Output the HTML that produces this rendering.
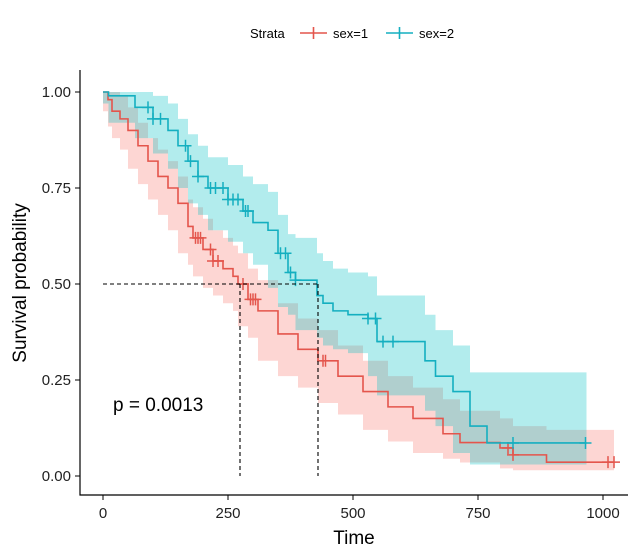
<!DOCTYPE html>
<html><head><meta charset="utf-8"><style>
html,body{margin:0;padding:0;background:#fff;}
svg{display:block;font-family:"Liberation Sans",Arial,sans-serif;}
</style></head><body>
<svg id="chart" width="640" height="557" viewBox="0 0 640 557">
<g id="bands"></g>
<g id="curves"></g>
<g id="ann"></g>
<g id="axes"></g>
</svg>
<script>
const xTicks=[0,250,500,750,1000];
const yTicks=[0,0.25,0.5,0.75,1.0];
const yTickLabels=["0.00","0.25","0.50","0.75","1.00"];
const t1=[0,10,18,34,50,70,90,110,130,150,170,180,200,220,240,260,270,290,310,350,390,430,470,520,570,620,680,714,794,820,887,1022];
const s1=[1,0.98,0.95,0.93,0.9,0.86,0.82,0.78,0.75,0.71,0.65,0.62,0.59,0.56,0.54,0.52,0.5,0.46,0.43,0.37,0.33,0.3,0.26,0.22,0.18,0.15,0.11,0.087,0.073,0.055,0.036,0.036];
const lo1=[1,0.95,0.91,0.88,0.85,0.8,0.76,0.72,0.68,0.64,0.58,0.55,0.52,0.49,0.47,0.45,0.43,0.39,0.36,0.3,0.26,0.23,0.19,0.16,0.12,0.09,0.06,0.045,0.035,0.02,0.015,0.015];
const hi1=[1,1,1,0.99,0.96,0.92,0.88,0.85,0.82,0.78,0.72,0.7,0.67,0.64,0.62,0.6,0.58,0.54,0.51,0.45,0.41,0.38,0.34,0.3,0.26,0.23,0.2,0.17,0.15,0.13,0.12,0.12];
const t2=[0,11,64,100,130,150,170,190,210,250,280,300,330,350,370,385,428,440,460,490,530,548,644,665,700,734,768,967];
const s2=[1,0.99,0.96,0.93,0.9,0.86,0.82,0.78,0.75,0.72,0.69,0.66,0.64,0.58,0.53,0.51,0.47,0.45,0.43,0.42,0.41,0.35,0.3,0.26,0.22,0.13,0.086,0.086];
const lo2=[1,0.97,0.92,0.88,0.84,0.8,0.75,0.71,0.68,0.64,0.61,0.58,0.55,0.49,0.44,0.42,0.38,0.36,0.34,0.33,0.32,0.26,0.21,0.17,0.13,0.06,0.03,0.03];
const hi2=[1,1,1,0.99,0.97,0.93,0.89,0.86,0.83,0.81,0.78,0.76,0.74,0.68,0.63,0.62,0.58,0.56,0.54,0.53,0.52,0.47,0.42,0.38,0.34,0.27,0.27,0.27];
const cens1=[185,190,195,215,220,230,280,295,300,305,440,445,810,820,1010,1022];
const cens2=[90,100,115,165,175,190,215,225,240,250,260,270,285,290,355,365,375,385,530,545,560,580,820,965];

const X=t=>103+t*0.5, Y=s=>476-s*384;
const NS="http://www.w3.org/2000/svg";
function mk(tag,attrs,parent){const e=document.createElementNS(NS,tag);for(const k in attrs)e.setAttribute(k,attrs[k]);parent.appendChild(e);return e;}
function stepPath(t,s){let d="M"+X(t[0])+","+Y(s[0]);for(let i=1;i<t.length;i++){d+=" H"+X(t[i])+" V"+Y(s[i]);}return d;}
function bandPath(t,lo,hi){let d="M"+X(t[0])+","+Y(hi[0]);for(let i=1;i<t.length;i++)d+=" H"+X(t[i])+" V"+Y(hi[i]);for(let i=t.length-1;i>0;i--)d+=" V"+Y(lo[i])+" H"+X(t[i-1]);d+=" V"+Y(lo[0])+"Z";return d;}
function survAt(t,s,x){let v=s[0];for(let i=0;i<t.length;i++)if(t[i]<=x)v=s[i];return v;}
const bands=document.getElementById('bands'),curves=document.getElementById('curves'),ann=document.getElementById('ann'),axes=document.getElementById('axes');
let b=mk('path',{d:bandPath(t1,lo1,hi1),fill:'#F8766D','fill-opacity':0.3},bands);


b=mk('path',{d:bandPath(t2,lo2,hi2),fill:'#00BFC4','fill-opacity':0.3},bands);


const series=[[t1,s1,cens1,'#E4554C','sex1'],[t2,s2,cens2,'#14AFC0','sex2']];
for(const [t,s,c,col,nm] of series){
 let p=mk('path',{d:stepPath(t,s),fill:'none',stroke:col,'stroke-width':1.6},curves);
 
 
 for(const ct of c){const cx=X(ct),cy=Y(survAt(t,s,ct));
  let m=mk('path',{d:`M${cx-6},${cy}H${cx+6}M${cx},${cy-6}V${cy+6}`,stroke:col,'stroke-width':1.5},curves);
  
  }
}
// median lines
const med1=274,med2=430;
let l=mk('path',{d:`M${X(0)},${Y(0.5)}H${X(med2)}M${X(med1)},${Y(0.5)}V${Y(0)}M${X(med2)},${Y(0.5)}V${Y(0)}`,stroke:'#000','stroke-width':1.1,'stroke-dasharray':'4,3',fill:'none'},ann);


let pt=mk('text',{x:113,y:411,'font-size':19,fill:'#000'},ann);pt.textContent='p = 0.0013';


// axes
mk('path',{d:'M80,70V495H628',stroke:'#000','stroke-width':1.2,fill:'none'},axes);
for(let i=0;i<yTicks.length;i++){const y=Y(yTicks[i]);mk('path',{d:`M75,${y}H80`,stroke:'#000'},axes);
 let tx=mk('text',{x:71,y:y+5,'text-anchor':'end','font-size':15,fill:'#222'},axes);tx.textContent=yTickLabels[i];
 
 }
for(const v of xTicks){const x=X(v);mk('path',{d:`M${x},495V500`,stroke:'#000'},axes);
 let tx=mk('text',{x:x,y:518,'text-anchor':'middle','font-size':15,fill:'#222'},axes);tx.textContent=v;
 
 }
let xt=mk('text',{x:354,y:544,'text-anchor':'middle','font-size':19,fill:'#000'},axes);xt.textContent='Time';


let yt=mk('text',{x:0,y:0,transform:'translate(26,283) rotate(-90)','text-anchor':'middle','font-size':19,fill:'#000'},axes);yt.textContent='Survival probability';


// legend
const lg=mk('g',{},axes);


let st=mk('text',{x:250,y:38,'font-size':13,fill:'#000'},lg);st.textContent='Strata';
const leg=[[300,'#E4554C','sex=1'],[386,'#14AFC0','sex=2']];
for(const [x,col,lab] of leg){
 let e=mk('g',{},lg);
 
 
 mk('path',{d:`M${x},33H${x+27}M${x+13.5},27V39`,stroke:col,'stroke-width':1.6},e);
 let tx=mk('text',{x:x+33,y:38,'font-size':13,fill:'#000'},e);tx.textContent=lab;}
</script>
</body></html>
